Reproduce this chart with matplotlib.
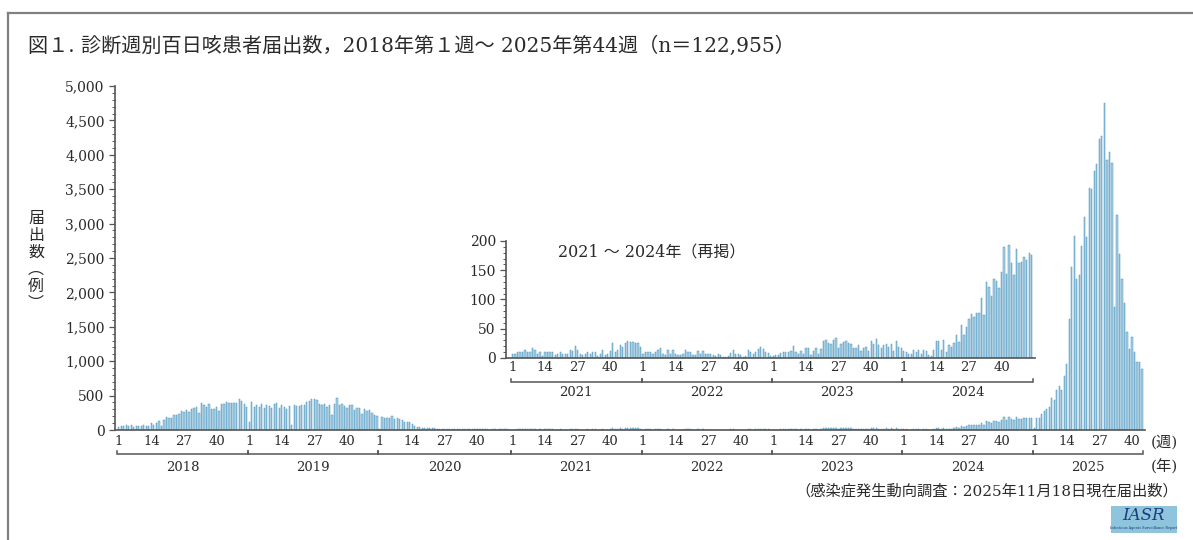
import matplotlib
matplotlib.use('Agg')
import matplotlib.pyplot as plt
import matplotlib.transforms as mtransforms
from matplotlib.patches import Rectangle
from matplotlib.lines import Line2D
from matplotlib.ticker import MultipleLocator, FuncFormatter
import numpy as np

# ---------------- data (weekly reports) ----------------
years = ['2018', '2019', '2020', '2021', '2022', '2023', '2024', '2025']
week_labels = [1, 14, 27, 40]

y2018 = [48, 53, 58, 68, 53, 73, 44, 63, 63, 63, 73, 63, 63, 106, 77, 106, 131, 63, 140, 184,
         179, 179, 213, 213, 232, 276, 266, 285, 256, 310, 324, 334, 252, 392, 368, 334, 382, 310, 310, 334,
         281, 382, 373, 406, 397, 392, 392, 392, 445, 416, 382, 329]
y2019 = [116, 412, 334, 368, 339, 373, 320, 358, 349, 324, 373, 397, 324, 368, 329, 310, 344, 77, 368, 349,
         353, 358, 358, 402, 426, 445, 450, 430, 377, 363, 373, 334, 358, 222, 377, 464, 368, 382, 353, 324,
         368, 368, 285, 324, 315, 227, 300, 281, 290, 242, 213, 208]
y2020 = [20, 184, 179, 179, 179, 198, 155, 169, 165, 140, 120, 110, 115, 85, 65, 50, 40, 30, 25, 30,
         25, 22, 25, 20, 18, 20, 18, 15, 12, 14, 12, 10, 12, 10, 13, 11, 10, 12, 9, 10,
         8, 9, 10, 8, 7, 9, 8, 7, 9, 8, 10, 8, 5]
y2021 = [7, 6, 10, 10, 10, 13, 9, 9, 16, 14, 6, 10, 3, 9, 10, 9, 9, 4, 7, 10,
         7, 6, 7, 13, 12, 20, 14, 7, 5, 7, 10, 6, 9, 9, 3, 7, 13, 5, 6, 12,
         26, 10, 14, 22, 19, 26, 29, 27, 27, 26, 25, 18]
y2022 = [7, 9, 10, 9, 7, 10, 13, 16, 7, 4, 14, 6, 14, 6, 4, 4, 7, 14, 9, 9,
         4, 4, 12, 7, 11, 7, 7, 7, 5, 3, 7, 5, 1, 1, 3, 8, 13, 7, 7, 5,
         1, 3, 14, 10, 7, 10, 15, 19, 15, 9, 8, 3]
y2023 = [3, 4, 4, 8, 10, 10, 9, 11, 20, 10, 7, 11, 6, 16, 16, 5, 11, 17, 7, 15,
         28, 30, 26, 24, 30, 34, 16, 23, 27, 29, 25, 23, 17, 17, 21, 12, 17, 19, 12, 28,
         23, 32, 21, 17, 21, 23, 19, 23, 11, 28, 19, 16]
y2024 = [12, 9, 7, 6, 13, 10, 13, 7, 14, 12, 5, 3, 14, 29, 29, 14, 30, 10, 21, 19,
         26, 39, 27, 56, 39, 53, 67, 75, 69, 76, 76, 103, 73, 130, 121, 106, 135, 132, 119, 147,
         189, 143, 194, 162, 142, 186, 162, 164, 172, 168, 179, 176]
y2025 = [30, 179, 179, 227, 281, 310, 329, 460, 436, 581, 639, 581, 784, 958, 1617, 2372, 2817, 2193, 2251, 2677,
         3098, 2807, 3524, 3509, 3766, 3862, 4235, 4274, 4753, 3920, 4041, 3882, 1791, 3131, 2565, 2193, 1839, 1418, 1176, 1355,
         1128, 992, 983, 881]

weekly = [y2018, y2019, y2020, y2021, y2022, y2023, y2024, y2025]

title = '図１. 診断週別百日咳患者届出数，2018年第１週～ 2025年第44週（n＝122,955）'
ylabel = '届\n出\n数\n︵\n例\n︶'
inset_note = '2021 ～ 2024年（再掲）'
source = '（感染症発生動向調査：2025年11月18日現在届出数）'

# ---------------- style ----------------
FAM = ['DejaVu Serif', 'Noto Sans CJK JP']
plt.rcParams['font.family'] = FAM
TXT = '#2a2a2a'
SPINE = '#555555'
FACE = '#abd3e6'
EDGE = '#4690bb'

W, H = 1193, 540
fig = plt.figure(figsize=(W / 100, H / 100), dpi=100)


def fx(px):
    return px / W


def fy(py):
    return 1 - py / H


counts = [len(v) for v in weekly]
starts = np.cumsum([0] + counts[:-1])
values = np.concatenate(weekly)
xidx = np.arange(len(values))

# main axes geometry (pixels)
X0, X1 = 115, 1145
YB, YT = 430, 86
XL, XR = -1.5, 409.2
ax = fig.add_axes([fx(X0), fy(YB), (X1 - X0) / W, (YB - YT) / H])
ax.bar(xidx, values, width=0.5, color=FACE, edgecolor=EDGE, linewidth=0.35)
ax.set_xlim(XL, XR)
ax.set_ylim(0, 5000)


def style_axes(a, major, minor, fs):
    for s in ('top', 'right'):
        a.spines[s].set_visible(False)
    for s in ('left', 'bottom'):
        a.spines[s].set_color(SPINE)
        a.spines[s].set_linewidth(1.2)
    a.yaxis.set_major_locator(MultipleLocator(major))
    a.yaxis.set_minor_locator(MultipleLocator(minor))
    a.yaxis.set_major_formatter(FuncFormatter(lambda v, p: f'{int(v):,}'))
    a.tick_params(axis='y', which='major', direction='out', length=4.5, width=0.9,
                  color=SPINE, labelsize=fs, labelcolor=TXT, pad=3)
    a.tick_params(axis='y', which='minor', direction='out', length=2.5, width=0.7, color=SPINE)
    a.set_xticks([])


style_axes(ax, 500, 100, 10)


def draw_week_axis(a, y_lab, y_br, y_tick, y_year, yr_range, fs):
    tr = mtransforms.blended_transform_factory(a.transData, a.transAxes)
    for i in yr_range:
        s0 = starts[i]
        n = counts[i]
        for w in week_labels:
            if w <= n:
                a.text(s0 + w - 1, y_lab, str(w), transform=tr, ha='center', va='center',
                       fontsize=fs, color=TXT, clip_on=False)
        s = s0 - 0.55
        e = s0 + n - 1 + 0.45
        a.plot([s, s, e, e], [y_tick, y_br, y_br, y_tick], transform=tr, color=SPINE,
               lw=1.1, clip_on=False, solid_joinstyle='miter')
        a.text((s + e) / 2, y_year, years[i], transform=tr, ha='center', va='center',
               fontsize=fs, color=TXT, clip_on=False)


draw_week_axis(ax, -0.034, -0.0706, -0.062, -0.108, range(len(years)), 9.5)

# ---------------- inset 2021-2024 ----------------
IL, IR = 154.5, 365.5
ppu = (X1 - X0) / (XR - XL)
ix0 = X0 + (IL - XL) * ppu
ix1 = X0 + (IR - XL) * ppu
IYB, IYT = 357.7, 241
axi = fig.add_axes([fx(ix0), fy(IYB), (ix1 - ix0) / W, (IYB - IYT) / H])
i0 = starts[3]
i1 = starts[6] + counts[6]
axi.bar(xidx[i0:i1], values[i0:i1], width=0.5, color=FACE, edgecolor=EDGE, linewidth=0.35)
axi.set_xlim(IL, IR)
axi.set_ylim(0, 200)
axi.patch.set_alpha(0)
style_axes(axi, 50, 10, 10)
draw_week_axis(axi, -0.088, -0.2057, -0.18, -0.30, range(3, 7), 9.5)
fig.text(fx(558), fy(253), inset_note, fontsize=11.5, color=TXT, ha='left', va='center', family=FAM)

# ---------------- texts ----------------
fig.text(fx(28), fy(46), title, fontsize=14.5, color=TXT, ha='left', va='center', family=FAM)
fig.text(fx(36), fy(261), ylabel, fontsize=11.5, color=TXT, ha='center', va='center',
         linespacing=1.0, family=['Noto Sans CJK JP'])
fig.text(fx(1178), fy(442), '(週)', fontsize=11, color=TXT, ha='right', va='center', family=FAM)
fig.text(fx(1178), fy(467), '(年)', fontsize=11, color=TXT, ha='right', va='center', family=FAM)
fig.text(fx(1178), fy(491), source, fontsize=11, color=TXT, ha='right', va='center', family=FAM)

# IASR badge
fig.add_artist(Rectangle((fx(1111), fy(533)), (1177 - 1111) / W, (533 - 506) / H,
                         transform=fig.transFigure, facecolor='#8fc4dd', edgecolor='none'))
fig.text(fx(1144), fy(516), 'IASR', fontsize=12, style='italic', color='#1d3b7c',
         ha='center', va='center', family=['DejaVu Serif'])
fig.text(fx(1144), fy(528), 'Infectious Agents Surveillance Report', fontsize=2.5,
         color='#1d3b7c', ha='center', va='center', family=['DejaVu Serif'])

# frame
fig.add_artist(Line2D([fx(8), fx(8)], [fy(13), 0], transform=fig.transFigure,
                      color='#808080', lw=1.6))
fig.add_artist(Line2D([fx(8), 1], [fy(13), fy(13)], transform=fig.transFigure,
                      color='#808080', lw=1.6))

fig.savefig('out.png', dpi=100)
